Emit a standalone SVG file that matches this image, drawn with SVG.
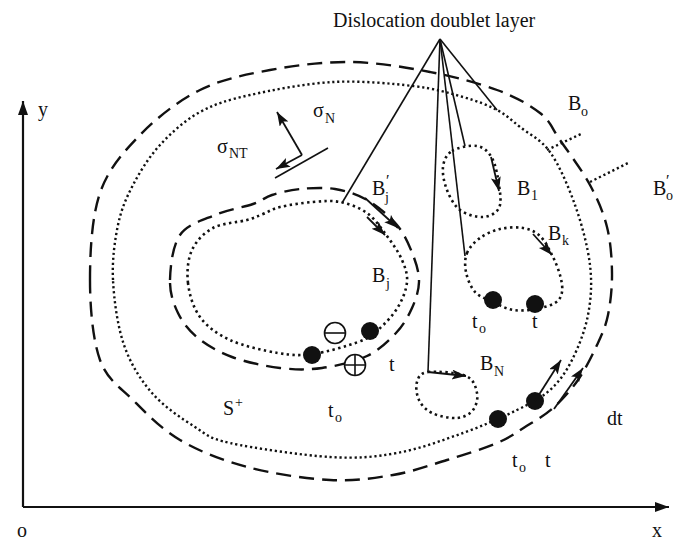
<svg xmlns="http://www.w3.org/2000/svg" width="688" height="540" viewBox="0 0 688 540">
<style>
.lbl{font-family:"Liberation Serif","Times New Roman",serif;font-size:20px;fill:#111}
.sub{font-size:14px}
.dash{fill:none;stroke:#111;stroke-width:2.4;stroke-dasharray:15 8}
.dot{fill:none;stroke:#111;stroke-width:2.6;stroke-dasharray:2.4 3.4}
.dotf{fill:none;stroke:#111;stroke-width:2.4;stroke-dasharray:2.2 2.8}
.ln{fill:none;stroke:#111;stroke-width:1.6}
.ar{fill:none;stroke:#111;stroke-width:1.8;marker-end:url(#ah)}
.ax{fill:none;stroke:#111;stroke-width:2.2;marker-end:url(#axh)}
.bd{fill:#111}
.sym{fill:#fff;stroke:#111;stroke-width:1.6}
</style>
<defs>
<marker id="ah" markerUnits="userSpaceOnUse" markerWidth="16" markerHeight="12" refX="14" refY="5" orient="auto"><path d="M0,0 L14,5 L0,10 L3,5 Z" fill="#111"/></marker>
<marker id="axh" markerUnits="userSpaceOnUse" markerWidth="16" markerHeight="12" refX="14" refY="5" orient="auto"><path d="M0,0 L14,5 L0,10 Z" fill="#111"/></marker>
</defs>
<rect width="688" height="540" fill="#fff"/>

<g id="axes">
<path class="ax" d="M23,507 L23,101"/>
<path class="ax" d="M23,507 L669,507"/>
<text class="lbl" x="38" y="116">y</text>
<text class="lbl" x="17" y="537">o</text>
<text class="lbl" x="652" y="537">x</text>
</g>

<g id="Bo-prime">
<path class="dash" d="M90,280 C90,252.2 91.7,217.2 100,193 C108.3,168.8 123.3,152.2 140,135 C156.7,117.8 178.3,100.8 200,90 C221.7,79.2 245,74.7 270,70 C295,65.3 323.3,61.7 350,62 C376.7,62.3 405.5,67.3 430,72 C454.5,76.7 478.7,83.2 497,90 C515.3,96.8 529.5,104.7 540,113 C550.5,121.3 551.7,128 560,140 C568.3,152 582.2,170.5 590,185 C597.8,199.5 603.3,212.3 607,227 C610.7,241.7 611.8,258.3 612,273 C612.2,287.7 610.5,303 608,315 C605.5,327 602,334.2 597,345 C592,355.8 585.3,369.5 578,380 C570.7,390.5 561.8,400.2 553,408 C544.2,415.8 534.3,421.2 525,427 C515.7,432.8 510,437.5 497,443 C484,448.5 464.3,454.7 447,460 C429.7,465.3 412.5,471.7 393,475 C373.5,478.3 354.3,481.3 330,480 C305.7,478.7 272,473.7 247,467 C222,460.3 199,451.2 180,440 C161,428.8 146.3,413.3 133,400 C119.7,386.7 107.2,380 100,360 C92.8,340 90,307.8 90,280 Z"/>
<path class="dotf" d="M590,182 L628,163"/>
<text class="lbl" x="653" y="195">B</text><text class="lbl sub" x="666" y="200">o</text><text class="lbl" x="666" y="186" style="font-size:16px">′</text>
</g>

<g id="Bo">
<path class="dotf" d="M113,280 C112,260 114.7,240.8 118,225 C121.3,209.2 126,198.3 133,185 C140,171.7 148.8,157.2 160,145 C171.2,132.8 185,120.3 200,112 C215,103.7 227.8,100 250,95 C272.2,90 305.8,83.5 333,82 C360.2,80.5 391.3,83.5 413,86 C434.7,88.5 449,93 463,97 C477,101 487.5,105 497,110 C506.5,115 511.2,120 520,127 C528.8,134 540.8,139 550,152 C559.2,165 568.3,186.2 575,205 C581.7,223.8 587.8,246.7 590,265 C592.2,283.3 591,299.2 588,315 C585,330.8 578.3,347.5 572,360 C565.7,372.5 559.2,381.7 550,390 C540.8,398.3 531.5,402.8 517,410 C502.5,417.2 483,425.8 463,433 C443,440.2 419.2,449 397,453 C374.8,457 357.8,458.7 330,457 C302.2,455.3 252.5,448 230,443 C207.5,438 208,435.3 195,427 C182,418.7 163.8,406.7 152,393 C140.2,379.3 130.5,363.8 124,345 C117.5,326.2 114,300 113,280 Z"/>
<path class="dotf" d="M547,150 L583,133"/>
<text class="lbl" x="568" y="110">B</text><text class="lbl sub" x="581" y="116">o</text>
<circle class="bd" cx="498" cy="419" r="9"/>
<circle class="bd" cx="535" cy="401" r="9"/>
<path class="ar" d="M535,401 L561,360"/>
<path class="ar" d="M554,409 L583,368"/>
<text class="lbl" x="512" y="467">t</text><text class="lbl sub" x="519" y="472">o</text>
<text class="lbl" x="545" y="467">t</text>
<text class="lbl" x="607" y="425">dt</text>
</g>

<g id="Bj">
<path class="dash" d="M170,280 C170.3,267 172.5,245.8 180,235 C187.5,224.2 202.8,220.2 215,215 C227.2,209.8 243.5,207.3 253,204 C262.5,200.7 264.2,197.5 272,195 C279.8,192.5 289.5,190 300,189 C310.5,188 323.8,187.2 335,189 C346.2,190.8 356.7,194 367,200 C377.3,206 389.3,215.8 397,225 C404.7,234.2 409.3,245.5 413,255 C416.7,264.5 419.2,273.2 419,282 C418.8,290.8 415.8,299.5 412,308 C408.2,316.5 403.5,325 396,333 C388.5,341 379.3,350.2 367,356 C354.7,361.8 336.5,366 322,368 C307.5,370 295,369.8 280,368 C265,366.2 245.7,362 232,357 C218.3,352 207,345.3 198,338 C189,330.7 182.7,322.7 178,313 C173.3,303.3 169.7,293 170,280 Z"/>
<path class="dot" d="M188,283 C186.7,271.8 187.8,259.2 192,250 C196.2,240.8 203.8,233 213,228 C222.2,223 238.7,222.3 247,220 C255.3,217.7 257.5,216.2 263,214 C268.5,211.8 271.7,209 280,207 C288.3,205 303,202.8 313,202 C323,201.2 331,200.2 340,202 C349,203.8 359.2,207.3 367,213 C374.8,218.7 381.2,228.2 387,236 C392.8,243.8 398.7,252.3 402,260 C405.3,267.7 407.7,274.2 407,282 C406.3,289.8 402.8,299 398,307 C393.2,315 384.7,324.2 378,330 C371.3,335.8 368.8,338 358,342 C347.2,346 326.3,352.2 313,354 C299.7,355.8 291.8,355.3 278,353 C264.2,350.7 243,346 230,340 C217,334 207,326.5 200,317 C193,307.5 189.3,294.2 188,283 Z"/>
<path class="ar" d="M365,198 L398,228"/>
<path class="ar" d="M367,217 L385,235"/>
<circle class="bd" cx="312" cy="355" r="9"/>
<circle class="bd" cx="370" cy="331" r="9"/>
<g class="sym"><circle cx="335" cy="333" r="10.5"/><path d="M324.5,333 H345.5"/></g>
<g class="sym"><circle cx="355" cy="365" r="10.5"/><path d="M344.5,365 H365.5 M355,354.5 V375.5"/></g>
<text class="lbl" x="372" y="195">B</text><text class="lbl sub" x="385" y="202">j</text><text class="lbl" x="386" y="186" style="font-size:16px">′</text>
<text class="lbl" x="372" y="282">B</text><text class="lbl sub" x="386" y="288">j</text>
<text class="lbl" x="389" y="371">t</text>
</g>

<g id="B1">
<path class="dot" d="M452,151 C457.7,147.5 470.3,144.8 477,146 C483.7,147.2 488.3,151.5 492,158 C495.7,164.5 497.8,176.7 499,185 C500.2,193.3 501.7,202.7 499,208 C496.3,213.3 489.5,216.7 483,217 C476.5,217.3 466,214.5 460,210 C454,205.5 449.8,197.2 447,190 C444.2,182.8 442.2,173.5 443,167 C443.8,160.5 446.3,154.5 452,151 Z"/>
<path class="ar" d="M491,157 L499,191"/>
<text class="lbl" x="517" y="195">B</text><text class="lbl sub" x="531" y="200">1</text>
</g>

<g id="Bk">
<path class="dot" d="M467,253 C469.3,247.3 474.5,242 480,238 C485.5,234 492.8,230.7 500,229 C507.2,227.3 516.3,226.8 523,228 C529.7,229.2 535.2,231.5 540,236 C544.8,240.5 548.7,248.5 552,255 C555.3,261.5 558.3,268.8 560,275 C561.7,281.2 562.8,287.3 562,292 C561.2,296.7 559.5,300.2 555,303 C550.5,305.8 542,307.8 535,309 C528,310.2 520,311.2 513,310 C506,308.8 499.3,305 493,302 C486.7,299 479.5,297 475,292 C470.5,287 467.3,278.5 466,272 C464.7,265.5 464.7,258.7 467,253 Z"/>
<path class="ar" d="M533,234 L552,255"/>
<circle class="bd" cx="493" cy="300" r="9"/>
<circle class="bd" cx="535" cy="304" r="9"/>
<text class="lbl" x="548" y="240">B</text><text class="lbl sub" x="562" y="245">k</text>
<text class="lbl" x="472" y="328">t</text><text class="lbl sub" x="479" y="333">o</text>
<text class="lbl" x="532" y="328">t</text>
</g>

<g id="BN">
<path class="dot" d="M428,372 C436.2,371 457.8,372.5 466,376 C474.2,379.5 475.8,387.3 477,393 C478.2,398.7 476.3,405.8 473,410 C469.7,414.2 463.8,417.5 457,418 C450.2,418.5 438.3,416 432,413 C425.7,410 421.5,405.2 419,400 C416.5,394.8 415.5,386.7 417,382 C418.5,377.3 419.8,373 428,372 Z"/>
<path class="ar" d="M428,372 L466,376"/>
<text class="lbl" x="480" y="370">B</text><text class="lbl sub" x="494" y="376">N</text>
</g>

<g id="stress">
<path class="ar" d="M302,155 L277,112"/>
<path class="ar" d="M302,155 L276,169"/>
<path class="ln" d="M275,178 L328,148"/>
<text class="lbl" x="313" y="117">σ</text><text class="lbl sub" x="325" y="123">N</text>
<text class="lbl" x="217" y="153">σ</text><text class="lbl sub" x="229" y="158">NT</text>
</g>

<g id="region">
<text class="lbl" x="223" y="415">S</text><text class="lbl sub" x="235" y="407">+</text>
<text class="lbl" x="328" y="417">t</text><text class="lbl sub" x="335" y="422">o</text>
</g>

<g id="connectors">
<text class="lbl" x="333" y="27">Dislocation doublet layer</text>
<path class="ln" d="M440,39 L342,203"/>
<path class="ln" d="M440,39 L428,372"/>
<path class="ln" d="M440,39 L465,256"/>
<path class="ln" d="M440,39 L465,146"/>
<path class="ln" d="M440,39 L497,110"/>
</g>
</svg>
